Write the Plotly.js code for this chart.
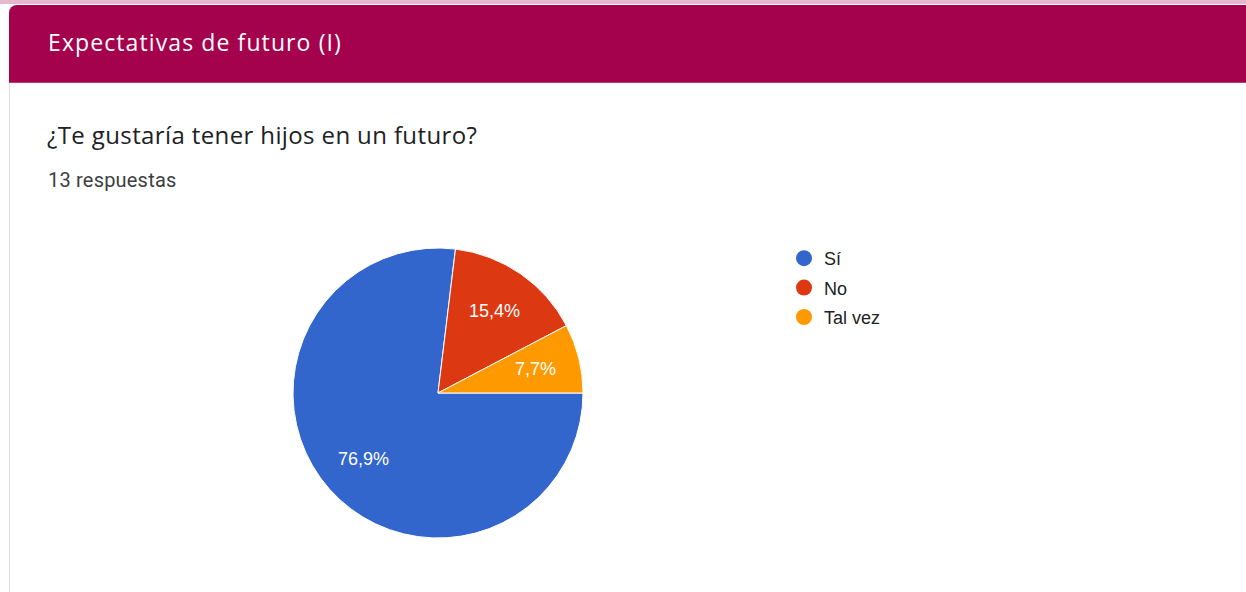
<!DOCTYPE html>
<html>
<head>
<meta charset="utf-8">
<script src="https://cdn.plot.ly/plotly-3.0.1.min.js"></script>
<style>
  html, body { margin:0; padding:0; width:1246px; height:592px; background:#ffffff; overflow:hidden; }
  #topstrip { position:absolute; left:0; top:0; width:1246px; height:4px; background:#e6b8cf; }
  #card { position:absolute; left:9px; top:4px; width:1237px; height:588px; background:#fff; border-left:1px solid #dadce0; border-top-left-radius:8px; }
  #header { position:absolute; left:9px; top:5px; width:1237px; height:77px; background:#a5024e; border-top-left-radius:8px; border-bottom:1px solid #b83a72; }
  #headtitle { position:absolute; left:48px; top:26px; color:#fff; font-family:"Open Sans","Roboto",sans-serif; font-size:23px; letter-spacing:1.1px; white-space:nowrap; }
  #question { position:absolute; left:47px; top:118px; color:#202124; font-family:"Open Sans","Roboto",sans-serif; font-size:24px; letter-spacing:0.38px; white-space:nowrap; }
  #count { position:absolute; left:48px; top:168px; color:#3c4043; font-family:"Roboto",sans-serif; font-size:20px; letter-spacing:0.2px; white-space:nowrap; }
  #chart { position:absolute; left:0; top:0; width:1246px; height:592px; }
</style>
</head>
<body>
<div id="topstrip"></div>
<div id="card"></div>
<div id="header"></div>
<div id="headtitle">Expectativas de futuro (I)</div>
<div id="question">¿Te gustaría tener hijos en un futuro?</div>
<div id="count">13 respuestas</div>
<div id="chart"></div>
<script>
const categories = ["Sí", "No", "Tal vez"];
const counts = [10, 2, 1];
const colors = ["#3366cc", "#dc3912", "#ff9900"];

const W = 1246, H = 592;
const cx = 438, cy = 393, r = 145;
const labelRadius = 0.69;

const total = counts.reduce((a, b) => a + b, 0);

const pie = {
  type: "pie",
  labels: categories,
  values: counts,
  sort: false,
  direction: "clockwise",
  rotation: 90,
  marker: { colors: colors, line: { color: "#ffffff", width: 1 } },
  textinfo: "none",
  hoverinfo: "label+value+percent",
  showlegend: false,
  domain: { x: [(cx - r) / W, (cx + r) / W], y: [(H - cy - r) / H, (H - cy + r) / H] }
};

// Percentage labels placed along each slice's mid-angle (clockwise from 3 o'clock), derived from the data
let cum = 0;
const annotations = counts.map((v, i) => {
  const mid = (cum + v / 2) / total * 2 * Math.PI;
  cum += v;
  const px = cx + Math.cos(mid) * r * labelRadius;
  const py = cy + Math.sin(mid) * r * labelRadius;
  const pct = (v / total * 100).toFixed(1).replace(".", ",") + "%";
  return {
    xref: "paper", yref: "paper",
    x: px / W, y: (H - py) / H,
    xanchor: "center", yanchor: "middle",
    text: pct, showarrow: false,
    font: { family: "Liberation Sans, Arial, sans-serif", size: 18, color: "#ffffff" }
  };
});

const legendTraces = categories.map((c, i) => ({
  type: "scatter",
  mode: "markers",
  x: [null], y: [null],
  name: c,
  legendgroup: "g" + i,
  marker: { color: colors[i], size: 16, symbol: "circle" },
  showlegend: true,
  hoverinfo: "skip"
}));

const layout = {
  width: W, height: H,
  margin: { l: 0, r: 0, t: 0, b: 0 },
  paper_bgcolor: "rgba(0,0,0,0)",
  plot_bgcolor: "rgba(0,0,0,0)",
  separators: ",.",
  xaxis: { visible: false, domain: [0.9, 1] },
  yaxis: { visible: false, domain: [0.9, 1] },
  showlegend: true,
  annotations: annotations,
  legend: {
    x: 784 / W, y: (H - 240) / H, xanchor: "left", yanchor: "top",
    font: { family: "Liberation Sans, Arial, sans-serif", size: 18, color: "#222222" },
    traceorder: "grouped", tracegroupgap: 3,
    bgcolor: "rgba(0,0,0,0)"
  }
};

Plotly.newPlot("chart", [pie].concat(legendTraces), layout, { displayModeBar: false, staticPlot: true });
</script>
</body>
</html>
